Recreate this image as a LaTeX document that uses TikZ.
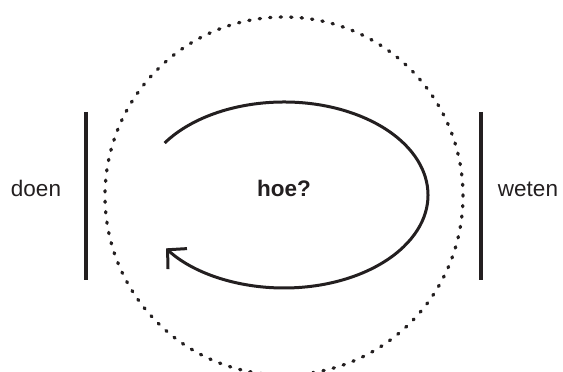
\documentclass[tikz,border=0pt]{standalone}
\usepackage{fontspec}
\setmainfont{Liberation Sans}
\usetikzlibrary{arrows.meta,calc}
\definecolor{ink}{HTML}{231F20}
\begin{document}
\begin{tikzpicture}[x=1pt,y=1pt,
  label/.style={text=ink,font=\fontsize{22.5}{26}\selectfont,anchor=base,inner sep=0pt},
  bar/.style={draw=ink,line width=4.5pt},
  loop/.style={draw=ink,line width=3pt,-{Straight Barb[length=13.5pt,width=28pt,line width=3pt]}},
  dots/.style={draw=ink,line width=3.3pt,line cap=round,dash pattern=on 1.3pt off 9.21pt}]
\useasboundingbox (0,0) rectangle (563,372);
\coordinate (c) at (284,176);
\draw[dots] (c) circle[radius=179];
\coordinate (lt) at (86,260); \coordinate (lb) at (86,92);
\coordinate (rt) at (481,260); \coordinate (rb) at (481,92);
\draw[bar] (lt) -- (lb);
\draw[bar] (rt) -- (rb);
\coordinate (s) at ($(284,177)+(146:144 and 93)$);
\draw[loop] (s) arc[start angle=146,end angle=-145,x radius=144,y radius=93];
\node[label] (doen) at (36,175) {doen};
\node[label] (weten) at (528,175) {weten};
\node[label,font=\fontsize{22.5}{26}\selectfont\bfseries] (hoe) at (284,175) {hoe?};
\end{tikzpicture}
\end{document}
